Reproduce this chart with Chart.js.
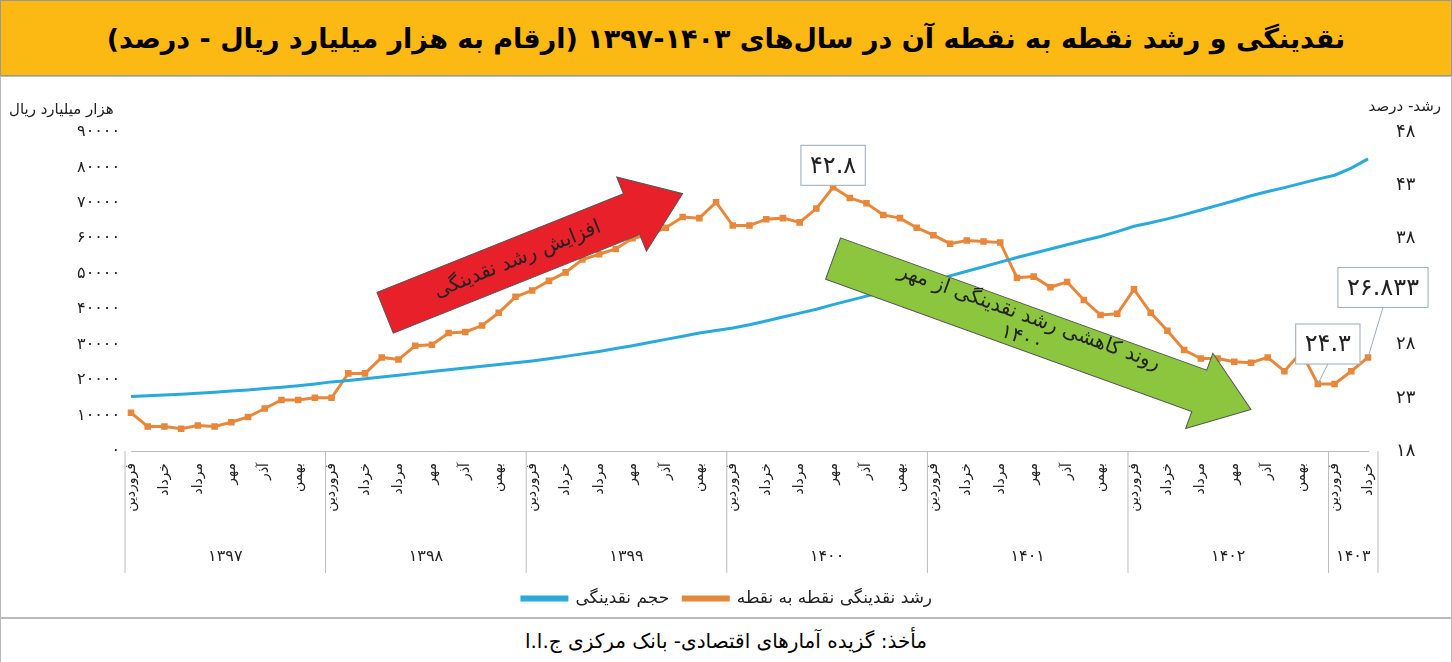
<!DOCTYPE html>
<html><head><meta charset="utf-8">
<script src="https://cdn.jsdelivr.net/npm/chart.js@4"></script>
<style>
body{margin:0;width:1452px;height:662px;overflow:hidden;font-family:"DejaVu Sans",sans-serif;background:#fff}
#title{position:absolute;left:0;top:0;width:1450px;height:74px;background:#FDB913;border:1px solid #999;display:flex;align-items:center;justify-content:center;font-weight:bold;font-size:27px;direction:rtl}
#wrap{position:absolute;left:0;top:76px;width:1450px;height:540px;border:1px solid #bbb}
#foot{position:absolute;left:0;top:618px;width:1450px;height:43px;border:1px solid #bbb;display:flex;align-items:center;justify-content:center;font-size:20px;direction:rtl}
</style></head><body>
<div id="title">نقدینگی و رشد نقطه به نقطه آن در سال‌های ۱۴۰۳-۱۳۹۷ (ارقام به هزار میلیارد ریال - درصد)</div>
<div id="wrap"><canvas id="c" width="1450" height="540"></canvas></div>
<div id="foot">مأخذ: گزیده آمارهای اقتصادی- بانک مرکزی ج.ا.ا</div>
<script>
const years=["۱۳۹۷","۱۳۹۸","۱۳۹۹","۱۴۰۰","۱۴۰۱","۱۴۰۲","۱۴۰۳"];
const monthNames=["فروردین","","خرداد","","مرداد","","مهر","","آذر","","بهمن",""];
const growth=[21.6,20.3,20.3,20.1,20.4,20.3,20.7,21.2,22.0,22.8,22.8,23.0,
23.0,25.3,25.3,26.8,26.6,27.9,28.0,29.1,29.2,29.8,31.0,32.5,
33.1,34.0,34.8,36.0,36.5,37.0,38.0,38.3,39.0,40.0,39.9,41.4,
39.2,39.2,39.8,39.9,39.5,40.8,42.8,41.8,41.3,40.2,39.9,39.0,
38.3,37.5,37.8,37.7,37.6,34.3,34.4,33.4,33.9,32.2,30.8,30.9,
33.2,31.0,29.3,27.5,26.7,26.7,26.4,26.3,26.8,25.5,27.3,24.3,24.3,25.5,26.8];
const liquidity=[15400,15600,15800,16000,16300,16600,16900,17200,17600,18000,18400,18900,
19500,19900,20400,20900,21400,21900,22400,22900,23400,23900,24400,24900,
25400,26000,26700,27400,28100,28900,29700,30600,31500,32400,33300,34000,
34700,35600,36700,37800,38900,40000,41300,42500,43700,44800,45900,47000,
48000,49400,50700,52000,53300,54600,55800,57000,58200,59400,60500,61900,
63400,64400,65500,66700,68000,69300,70600,72000,73200,74300,75500,76700,
77800,79800,82400];
const leftTicks=[0,10000,20000,30000,40000,50000,60000,70000,80000,90000];
const rightTicks=[18,23,28,33,38,43,48];
const fa=s=>String(s).replace(/\d/g,d=>"۰۱۲۳۴۵۶۷۸۹"[d]);
const labels=[];for(let y=0;y<7;y++){const n=y<6?12:3;for(let m=0;m<n;m++)labels.push(monthNames[m]);}
const F="DejaVu Sans";
function arrow(ctx,x1,y1,x2,y2,color,text,tc){
 const a=Math.atan2(y2-y1,x2-x1),L=Math.hypot(x2-x1,y2-y1),w=22,hw=40,hl=55;
 ctx.save();ctx.translate(x1,y1);ctx.rotate(a);
 ctx.beginPath();ctx.moveTo(0,-w);ctx.lineTo(L-hl,-w);ctx.lineTo(L-hl,-hw);ctx.lineTo(L,0);ctx.lineTo(L-hl,hw);ctx.lineTo(L-hl,w);ctx.lineTo(0,w);ctx.closePath();
 ctx.fillStyle=color;ctx.fill();ctx.strokeStyle="#555";ctx.lineWidth=1;ctx.stroke();
 ctx.fillStyle=tc;ctx.font="20px "+F;ctx.textAlign="center";ctx.textBaseline="middle";ctx.direction="rtl";
 const lines=text.split("\n");lines.forEach((t,i)=>ctx.fillText(t,(L-hl)/2+10,(i-(lines.length-1)/2)*22));
 ctx.restore();}
function box(ctx,cx,cy,t,px,py){
 ctx.save();ctx.font="24px "+F;const w=ctx.measureText(t).width+18;
 if(px!==undefined){ctx.strokeStyle="#9ab";ctx.beginPath();ctx.moveTo(cx,cy+20);ctx.lineTo(px,py);ctx.stroke();}
 ctx.fillStyle="#fff";ctx.strokeStyle="#9ab";ctx.fillRect(cx-w/2,cy-20,w,40);ctx.strokeRect(cx-w/2,cy-20,w,40);
 ctx.fillStyle="#222";ctx.textAlign="center";ctx.textBaseline="middle";ctx.fillText(t,cx,cy+1);ctx.restore();}
const deco={id:"deco",afterDraw(c){
 const ctx=c.ctx,x=c.scales.x,yR=c.scales.y1,ca=c.chartArea;
 ctx.save();ctx.strokeStyle="#bbb";ctx.lineWidth=1;
 const top=ca.bottom,bot=ca.bottom+122;
 let start=0;
 for(let i=0;i<7;i++){const n=i<6?12:3;const xl=x.getPixelForValue(start)-6,xr=i<6?x.getPixelForValue(start+n)-6:x.getPixelForValue(start+n-1)+10;
  ctx.beginPath();ctx.moveTo(xl,top);ctx.lineTo(xl,bot);ctx.stroke();
  if(i==6){ctx.beginPath();ctx.moveTo(xr,top);ctx.lineTo(xr,bot);ctx.stroke();}
  ctx.fillStyle="#222";ctx.font="16px "+F;ctx.textAlign="center";ctx.fillText(years[i],(xl+xr)/2,bot-16);start+=n;}
 ctx.font="15px "+F;ctx.fillStyle="#222";ctx.textAlign="left";ctx.fillText("هزار میلیارد ریال",8,ca.top-22);
 ctx.textAlign="right";ctx.fillText("رشد- درصد",1440,ca.top-25);
 const P=(i,v)=>[x.getPixelForValue(i),yR.getPixelForValue(v)];
 let a=P(15.2,31.0),b=P(33,42.2);arrow(ctx,a[0],a[1],b[0],b[1],"#E8202A","افزایش رشد نقدینگی","#222");
 a=P(42,36.1);b=P(67,21.9);arrow(ctx,a[0],a[1],b[0],b[1],"#8CC63F","روند کاهشی رشد نقدینگی از مهر\n۱۴۰۰","#222");
 let p=P(42,42.8);box(ctx,p[0],p[1]-22,fa("42.8"));
 p=P(71,24.3);box(ctx,p[0]+10,p[1]-40,fa("24.3"),p[0],p[1]);
 p=P(74,26.8);box(ctx,p[0]+15,p[1]-70,fa("26.833"),p[0],p[1]);
 ctx.restore();}};
new Chart(document.getElementById("c"),{type:"line",
 data:{labels,datasets:[
  {label:"حجم نقدینگی",data:liquidity,yAxisID:"y",borderColor:"#29A9DC",backgroundColor:"#29A9DC",borderWidth:3,pointRadius:0,tension:0},
  {label:"رشد نقدینگی نقطه به نقطه",data:growth,yAxisID:"y1",borderColor:"#E8873A",backgroundColor:"#E8873A",borderWidth:3,pointStyle:"rect",pointRadius:2.5,tension:0}]},
 options:{responsive:false,animation:false,
  layout:{padding:{top:55,left:10,right:8,bottom:0}},
  plugins:{legend:{position:"bottom",labels:{font:{family:F,size:17},color:"#222",boxWidth:45,boxHeight:3,padding:14}},tooltip:{enabled:false}},
  scales:{
   x:{offset:false,grid:{display:false},border:{color:"#bbb"},ticks:{autoSkip:false,maxRotation:90,minRotation:90,font:{family:F,size:14},color:"#222",padding:4},afterFit(s){s.height=125;}},
   y:{min:0,max:90000,afterBuildTicks(s){s.ticks=leftTicks.map(v=>({value:v}))},grid:{display:false},border:{display:false},
      ticks:{font:{family:F,size:16},color:"#222",callback:v=>v===0?"٠":fa(v)},afterFit(s){s.width=120;}},
   y1:{position:"right",min:18,max:48,afterBuildTicks(s){s.ticks=rightTicks.map(v=>({value:v}))},grid:{display:false},border:{display:false},
      ticks:{font:{family:F,size:18},color:"#222",padding:20,callback:v=>fa(v)},afterFit(s){s.width=75;}}}},
 plugins:[deco]});
</script></body></html>
